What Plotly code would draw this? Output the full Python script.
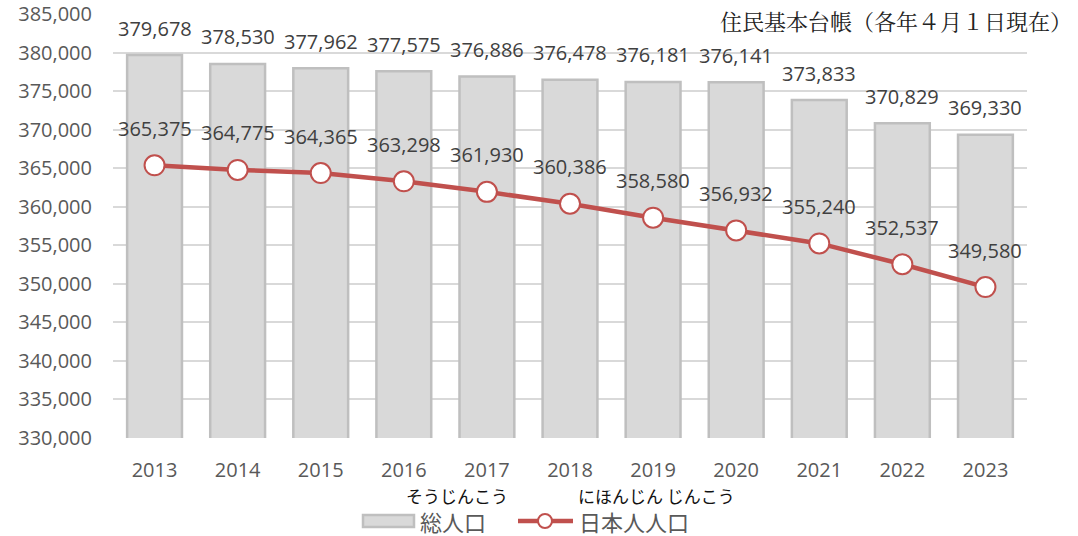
import plotly.graph_objects as go

years = [2013, 2014, 2015, 2016, 2017, 2018, 2019, 2020, 2021, 2022, 2023]
total_pop = [379678, 378530, 377962, 377575, 376886, 376478, 376181, 376141, 373833, 370829, 369330]
japanese_pop = [365375, 364775, 364365, 363298, 361930, 360386, 358580, 356932, 355240, 352537, 349580]
y_ticks = list(range(330000, 385001, 5000))

FONT = "Open Sans, Noto Sans CJK JP, sans-serif"
CJK = "Noto Sans CJK JP, sans-serif"

L, R, T, B = 113, 51, 14, 98
PW, PH = 1078 - L - R, 536 - T - B


def px(x):
    return (x - L) / PW


def py(y):
    return (536 - B - y) / PH


fig = go.Figure()
fig.add_trace(go.Bar(
    x=years, y=total_pop, name="総人口",
    marker=dict(color="#d9d9d9", line=dict(color="#bfbfbf", width=2.5)),
    width=0.66, showlegend=False,
))
fig.add_trace(go.Scatter(
    x=years, y=japanese_pop, name="日本人人口", mode="lines+markers",
    line=dict(color="#c0504d", width=4.5),
    marker=dict(size=20, color="white", line=dict(color="#c0504d", width=2)),
    showlegend=False,
))

annotations = []
for x, v in zip(years, total_pop):
    annotations.append(dict(x=x, y=v, text=f"{v:,}", showarrow=False, yshift=27,
                            font=dict(family=FONT, size=20, color="#404040")))
for x, v in zip(years, japanese_pop):
    annotations.append(dict(x=x, y=v, text=f"{v:,}", showarrow=False, yshift=37,
                            font=dict(family=FONT, size=20, color="#404040")))
annotations.append(dict(xref="paper", yref="paper", x=px(1074), y=py(20), xanchor="right", yanchor="middle",
                        text="住民基本台帳（各年４月１日現在）", showarrow=False,
                        font=dict(family="Noto Serif CJK JP, Noto Sans CJK JP, serif", size=22, color="#222222")))
# custom legend
annotations.append(dict(xref="paper", yref="paper", x=px(457), y=py(495),
                        text="そうじんこう", showarrow=False, yanchor="middle",
                        font=dict(family=CJK, size=17, color="#111111")))
annotations.append(dict(xref="paper", yref="paper", x=px(656), y=py(495),
                        text="にほんじん じんこう", showarrow=False, yanchor="middle",
                        font=dict(family=CJK, size=17, color="#111111")))
annotations.append(dict(xref="paper", yref="paper", x=px(418), y=py(521), xanchor="left",
                        text="総人口", showarrow=False, yanchor="middle",
                        font=dict(family=CJK, size=22, color="#595959")))
annotations.append(dict(xref="paper", yref="paper", x=px(577), y=py(521), xanchor="left",
                        text="日本人人口", showarrow=False, yanchor="middle",
                        font=dict(family=CJK, size=22, color="#595959")))

shapes = [
    dict(type="rect", xref="paper", yref="paper", x0=px(363), x1=px(414), y0=py(527), y1=py(515),
         fillcolor="#d9d9d9", line=dict(color="#bfbfbf", width=2.5)),
    dict(type="line", xref="paper", yref="paper", x0=px(518), x1=px(573), y0=py(521), y1=py(521),
         line=dict(color="#c0504d", width=4.5)),
    dict(type="circle", xref="paper", yref="paper", x0=px(538), x1=px(552), y0=py(528), y1=py(514),
         fillcolor="white", line=dict(color="#c0504d", width=2)),
]

fig.update_layout(
    width=1078, height=536,
    margin=dict(l=L, r=R, t=T, b=B, autoexpand=False),
    plot_bgcolor="white", paper_bgcolor="white",
    showlegend=False,
    xaxis=dict(range=[2012.5, 2023.5], tickvals=years, ticktext=[str(y) for y in years],
               tickfont=dict(family=FONT, size=20, color="#595959"),
               showgrid=False, showline=False, ticks="", ticklabelstandoff=18, zeroline=False),
    yaxis=dict(range=[330000, 385000], tickvals=y_ticks, tickformat=",d",
               tickfont=dict(family=FONT, size=20, color="#595959"),
               gridcolor="#d9d9d9", gridwidth=1.5, zeroline=False, showline=False, ticks="",
               ticklabelstandoff=20),
    annotations=annotations,
    shapes=shapes,
)
fig.write_html("out.html", config={"displayModeBar": False},
               post_script="document.body.style.margin='0';document.body.style.overflow='hidden';")
